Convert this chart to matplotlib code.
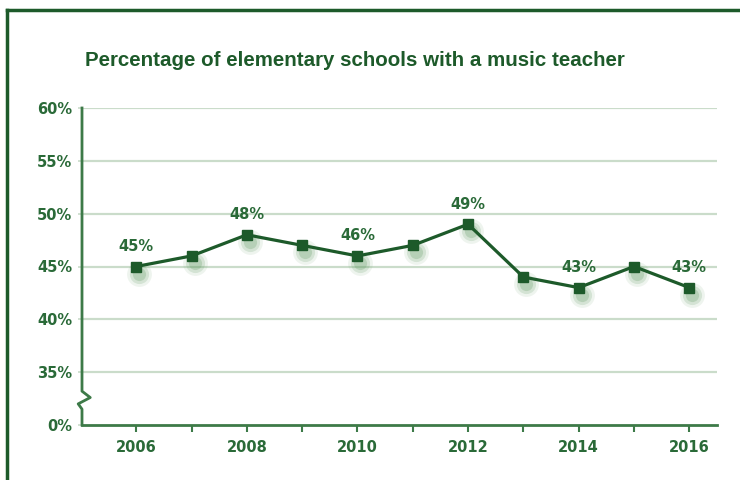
import matplotlib.pyplot as plt
import matplotlib.transforms as mtransforms
from matplotlib.lines import Line2D

# data
years = [2006, 2007, 2008, 2009, 2010, 2011, 2012, 2013, 2014, 2015, 2016]
pct = [45, 46, 48, 47, 46, 47, 49, 44, 43, 45, 43]
labeled_years = [2006, 2008, 2010, 2012, 2014, 2016]
y_ticks = [30, 35, 40, 45, 50, 55, 60]
y_tick_labels = ['0%', '35%', '40%', '45%', '50%', '55%', '60%']
title = 'Percentage of elementary schools with a music teacher'

dark = '#1d5a2a'
text_green = '#2a6a38'
grid_green = '#cadcca'

fig = plt.figure(figsize=(7.4, 4.8), dpi=100)
ax = fig.add_axes([82 / 740, 1 - 425 / 480, (717 - 82) / 740, (425 - 108) / 480])

# frame around the graphic (top and left edges visible)
fig.add_artist(Line2D([7 / 740, 1.0], [1 - 10 / 480, 1 - 10 / 480], color=dark, lw=2.5,
                      transform=fig.transFigure))
fig.add_artist(Line2D([7 / 740, 7 / 740], [0, 1 - 10 / 480], color=dark, lw=2.5,
                      transform=fig.transFigure))

fig.text(85 / 740, 1 - 61 / 480, title, fontsize=14.8, fontweight='bold',
         color=dark, va='center', ha='left',
         family=['Liberation Sans', 'DejaVu Sans'])

# soft shadows under markers
for k, (sz, a) in enumerate([(320, 0.10), (190, 0.18), (90, 0.25)]):
    tr = mtransforms.offset_copy(ax.transData, fig=fig, x=3, y=-7, units='dots')
    ax.scatter(years, pct, s=sz, color='#5f9a62', alpha=a, lw=0, transform=tr, zorder=2)

ax.plot(years, pct, color=dark, lw=2.3, marker='s', markersize=7.5, zorder=3)

for yr, v in zip(years, pct):
    if yr in labeled_years:
        ax.annotate(f'{v}%', (yr, v), xytext=(0, 9), textcoords='offset points',
                    ha='center', va='bottom', fontsize=10.5, fontweight='bold',
                    color=text_green)

ax.set_xlim(2005.02, 2016.5)
ax.set_ylim(30, 60)
ax.set_yticks(y_ticks)
ax.set_yticklabels(y_tick_labels)
ax.set_xticks(years)
ax.set_xticklabels([str(y) if y in labeled_years else '' for y in years])

for g in y_ticks[1:]:
    ax.axhline(g, color=grid_green, lw=1.6, zorder=0)

for s in ['top', 'right', 'left']:
    ax.spines[s].set_visible(False)
ax.spines['bottom'].set_color('#3d7a48')
ax.spines['bottom'].set_linewidth(2)

# left axis with a break zigzag near the bottom
ytr = ax.get_yaxis_transform()
zx = [0, 0, 0.013, -0.006, 0, 0]
zy = [60, 33.2, 32.6, 32.0, 31.5, 30]
ax.plot(zx, zy, color='#3d7a48', lw=2, transform=ytr, clip_on=False, zorder=4)

ax.tick_params(axis='y', length=3, width=1.2, color=grid_green, pad=4,
               labelsize=10.5, labelcolor=text_green)
ax.tick_params(axis='x', length=5, width=1.5, color='#3d7a48', pad=6,
               labelsize=10.5, labelcolor=text_green)
for lab in ax.get_xticklabels() + ax.get_yticklabels():
    lab.set_fontweight('bold')

fig.savefig('out.png', dpi=100, facecolor='white')
